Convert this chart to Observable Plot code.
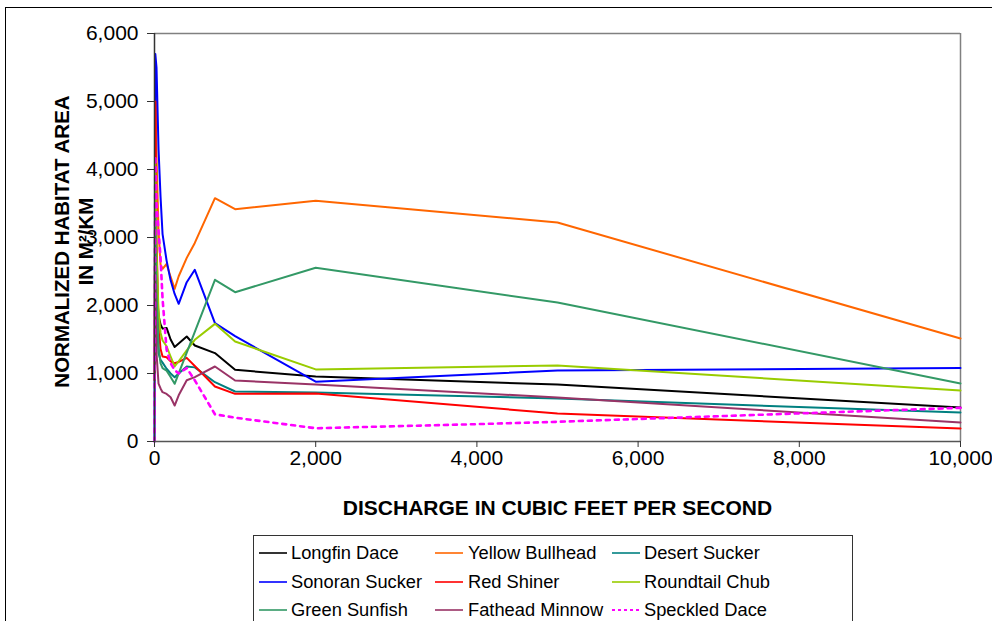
<!DOCTYPE html>
<html><head><meta charset="utf-8">
<script src="https://cdn.jsdelivr.net/npm/d3@7"></script>
<script src="https://cdn.jsdelivr.net/npm/@observablehq/plot@0.6"></script>
<style>
body{margin:0;background:#fff;font-family:"Liberation Sans",Arial,sans-serif;}
#wrap{position:relative;width:992px;height:621px;overflow:hidden;background:#fff;}
#frame{position:absolute;left:5px;top:7px;width:1100px;height:800px;border:1px solid #000;box-sizing:border-box;}
#chart{position:absolute;left:0;top:0;}
#legend{position:absolute;left:253px;top:535px;width:600px;height:120px;border:1px solid #333;box-sizing:border-box;background:#fff;}
.item{position:absolute;height:20px;font-size:18.3px;line-height:20px;color:#000;white-space:nowrap;}
.item svg{position:absolute;left:0;top:0;}
.item span{position:absolute;top:0;}
</style></head>
<body>
<div id="wrap"><div id="frame"></div><div id="chart"></div><div id="legend"></div></div>
<script>
// Discharge (cfs)
const discharge = [0, 10, 25, 50, 75, 100, 150, 200, 250, 300, 400, 500, 750, 1000, 2000, 3000, 4000, 5000, 10000];
// Normalized habitat area (m2/km) per species, aligned with discharge (null = no value)
const longfinDace    = [null, 3000, 2300, 1850, 1720, 1660, 1670, 1500, 1390, 1440, 1544, 1412, 1300, 1054, 955, null, null, 838, 500];
const yellowBullhead = [null, 5550, 4200, 3100, 2600, 2540, 2610, 2420, 2245, 2430, 2700, 2920, 3578, 3416, 3540, null, null, 3220, 1515];
const desertSucker   = [null, 3000, 2000, 1300, 1200, 1160, 1070, 1000, 946, 1000, 1103, 1090, 872, 735, 720, null, null, 632, 426];
const sonoranSucker  = [0, 5700, 5500, 4300, 3600, 3050, 2660, 2370, 2170, 2025, 2343, 2525, 1740, 1550, 880, null, null, 1045, 1080];
const redShiner      = [900, 5000, 3000, 1700, 1360, 1250, 1240, 1180, 1150, 1170, 1230, 1110, 809, 701, 705, null, null, 412, 190];
const roundtailChub  = [null, 4130, 2800, 1900, 1600, 1485, 1400, 1250, 1103, 1180, 1340, 1495, 1730, 1470, 1060, null, null, 1118, 750];
const greenSunfish   = [null, 3300, 2200, 1400, 1150, 1080, 1040, 950, 849, 1002, 1308, 1613, 2378, 2196, 2555, null, null, 2044, 853];
const fatheadMinnow  = [null, 2400, 1300, 850, 780, 725, 700, 651, 529, 680, 900, 946, 1103, 897, 838, null, null, 647, 280];
const speckledDace   = [0, 4200, 3500, 3100, 2700, 2100, 1350, 1150, 1050, 1000, 1080, 900, 400, 350, 195, 225, 255, 290, 495];

const speciesNames = ["Longfin Dace", "Yellow Bullhead", "Desert Sucker", "Sonoran Sucker", "Red Shiner", "Roundtail Chub", "Green Sunfish", "Fathead Minnow", "Speckled Dace"];
const speciesColors = ["#000000", "#ff6600", "#008080", "#0000ff", "#ff0000", "#99cc00", "#339966", "#993366", "#ff00ff"];
const speciesValues = [longfinDace, yellowBullhead, desertSucker, sonoranSucker, redShiner, roundtailChub, greenSunfish, fatheadMinnow, speckledDace];
const yTicks = [0, 1000, 2000, 3000, 4000, 5000, 6000];
const xTicks = [0, 2000, 4000, 6000, 8000, 10000];
const xTitle = "DISCHARGE IN CUBIC FEET PER SECOND";
const yTitle = "NORMALIZED HABITAT AREA\nIN M²/KM";

const rows = [];
speciesNames.forEach((name, i) => {
  speciesValues[i].forEach((v, j) => { if (v != null) rows.push({name, q: discharge[j], v}); });
});
const solid = rows.filter(d => d.name !== "Speckled Dace");
const dotted = rows.filter(d => d.name === "Speckled Dace");
const fmt = d3.format(",");

const chart = Plot.plot({
  width: 992, height: 621,
  marginLeft: 154, marginRight: 32, marginTop: 33, marginBottom: 180,
  style: {fontFamily: '"Liberation Sans", Arial, sans-serif', background: "transparent", overflow: "visible"},
  x: {domain: [0, 10000]},
  y: {domain: [0, 6000]},
  color: {domain: speciesNames, range: speciesColors},
  marks: [
    Plot.ruleY([6000], {stroke: "#808080", strokeWidth: 1.5}),
    Plot.ruleX([10000], {stroke: "#808080", strokeWidth: 1.5}),
    Plot.line(solid, {x: "q", y: "v", z: "name", stroke: "name", strokeWidth: 2, strokeLinejoin: "round"}),
    Plot.line(dotted, {x: "q", y: "v", stroke: "name", strokeWidth: 2.6, strokeDasharray: "4,5"}),
    Plot.ruleX([0], {stroke: "#333", strokeWidth: 1.5}),
    Plot.ruleY([0], {stroke: "#555", strokeWidth: 1.5}),
    Plot.axisY({ticks: yTicks, tickFormat: fmt, tickSize: 7, tickPadding: 9, fontSize: 21, label: null, stroke: "#333", color: "#000"}),
    Plot.axisX({ticks: xTicks, tickFormat: fmt, tickSize: 6, tickPadding: 3, fontSize: 21, label: null, stroke: "#333", color: "#000"}),
    Plot.text([xTitle], {frameAnchor: "bottom", dy: 73, text: d => d, fontSize: 21, fontWeight: "bold", fill: "#000"}),
    Plot.text([yTitle], {frameAnchor: "left", dx: -81, dy: 4, rotate: -90, textAnchor: "middle", text: d => d, fontSize: 20.5, fontWeight: "bold", fill: "#000", lineHeight: 1.15})
  ]
});
document.getElementById("chart").appendChild(chart);

// Legend
const legend = document.getElementById("legend");
const colX = [5, 181, 358];
const textX = [37, 214, 390];
const rowY = [7, 36, 64];
speciesNames.forEach((name, i) => {
  const col = i % 3, row = Math.floor(i / 3);
  const div = document.createElement("div");
  div.className = "item";
  div.style.left = colX[col] + "px";
  div.style.top = rowY[row] + "px";
  const dash = name === "Speckled Dace" ? 'stroke-dasharray="3,3" stroke-width="2"' : 'stroke-width="1.6"';
  div.innerHTML = `<svg width="30" height="20"><line x1="0" x2="28" y1="10" y2="10" stroke="${speciesColors[i]}" ${dash}/></svg><span style="left:${textX[col]-colX[col]}px">${name}</span>`;
  legend.appendChild(div);
});
</script>
</body></html>
